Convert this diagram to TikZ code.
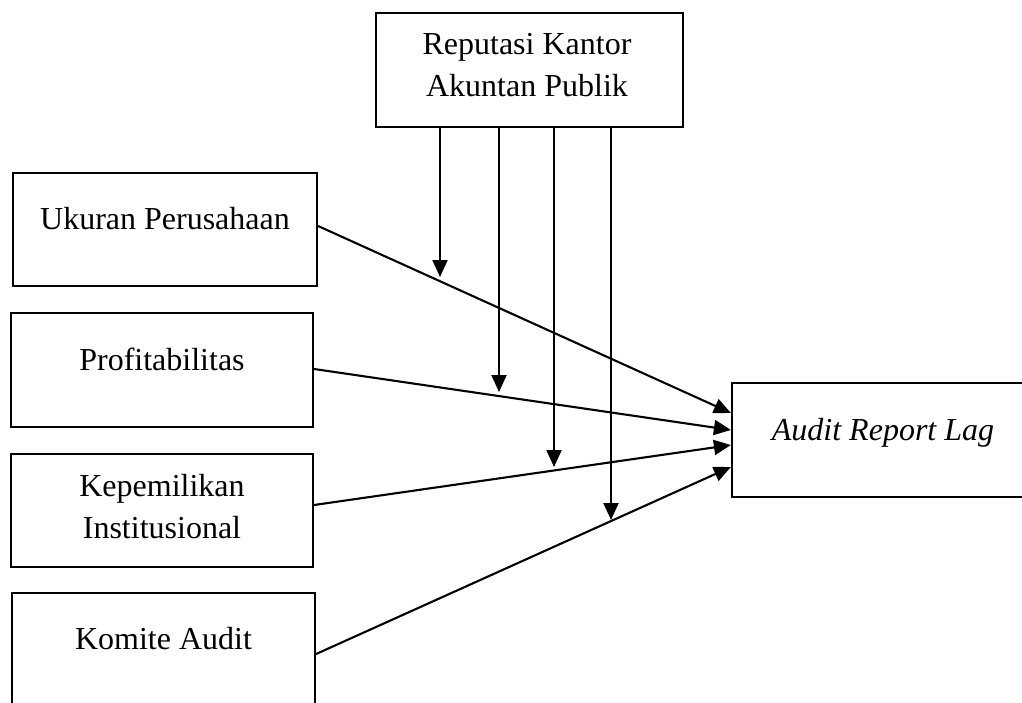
\documentclass[tikz,border=0pt]{standalone}
\usepackage{fontspec}
\setmainfont{Liberation Serif}
\usetikzlibrary{arrows.meta}
\begin{document}
\begin{tikzpicture}[x=1pt,y=-1pt,
  box/.style={draw,line width=2.2pt,rectangle,inner sep=0pt,minimum width=#1,minimum height=114pt},
  txt/.style={inner sep=0pt,anchor=base,align=center,font=\fontsize{32}{42}\selectfont},
  arr/.style={line width=2.1pt,-{Triangle[length=17pt,width=15pt]}}]
\useasboundingbox (0,0) rectangle (1022,702);
\clip (0,0) rectangle (1022,702);
% boxes
\node[box=307pt] (rkap) at (529.5,70) {};
\node[box=304pt,minimum height=113pt] (uk) at (165,229.5) {};
\node[box=302pt] (prof) at (162,370) {};
\node[box=302pt,minimum height=113pt] (kep) at (162,510.5) {};
\node[box=303pt] (kom) at (163.5,650) {};
\node[box=308pt] (arl) at (886,440) {};
% texts
\node[txt] (trkap) at (527,96) {Reputasi Kantor\\Akuntan Publik};
\node[txt] (tuk) at (165,229) {Ukuran Perusahaan};
\node[txt] (tprof) at (162,370) {Profitabilitas};
\node[txt] (tkep) at (162,538) {Kepemilikan\\Institusional};
\node[txt] (tkom) at (163.5,649) {Komite Audit};
\node[txt] (tarl) at (883,440) {\itshape Audit Report Lag};
% diagonal arrows
\draw[arr] ([yshift=3.5pt]uk.east) -- ([yshift=27pt]arl.west);
\draw[arr] ([yshift=1pt]prof.east) -- ([yshift=10pt]arl.west);
\draw[arr] ([yshift=5.5pt]kep.east) -- ([yshift=-5pt]arl.west);
\draw[arr] ([yshift=-4pt]kom.east) -- ([yshift=-27pt]arl.west);
% moderating arrows
\coordinate (m1) at (440,277);
\coordinate (m2) at (499,392);
\coordinate (m3) at (554,467);
\coordinate (m4) at (611,520);
\draw[arr] (rkap.south -| m1) -- (m1);
\draw[arr] (rkap.south -| m2) -- (m2);
\draw[arr] (rkap.south -| m3) -- (m3);
\draw[arr] (rkap.south -| m4) -- (m4);
\end{tikzpicture}
\end{document}
